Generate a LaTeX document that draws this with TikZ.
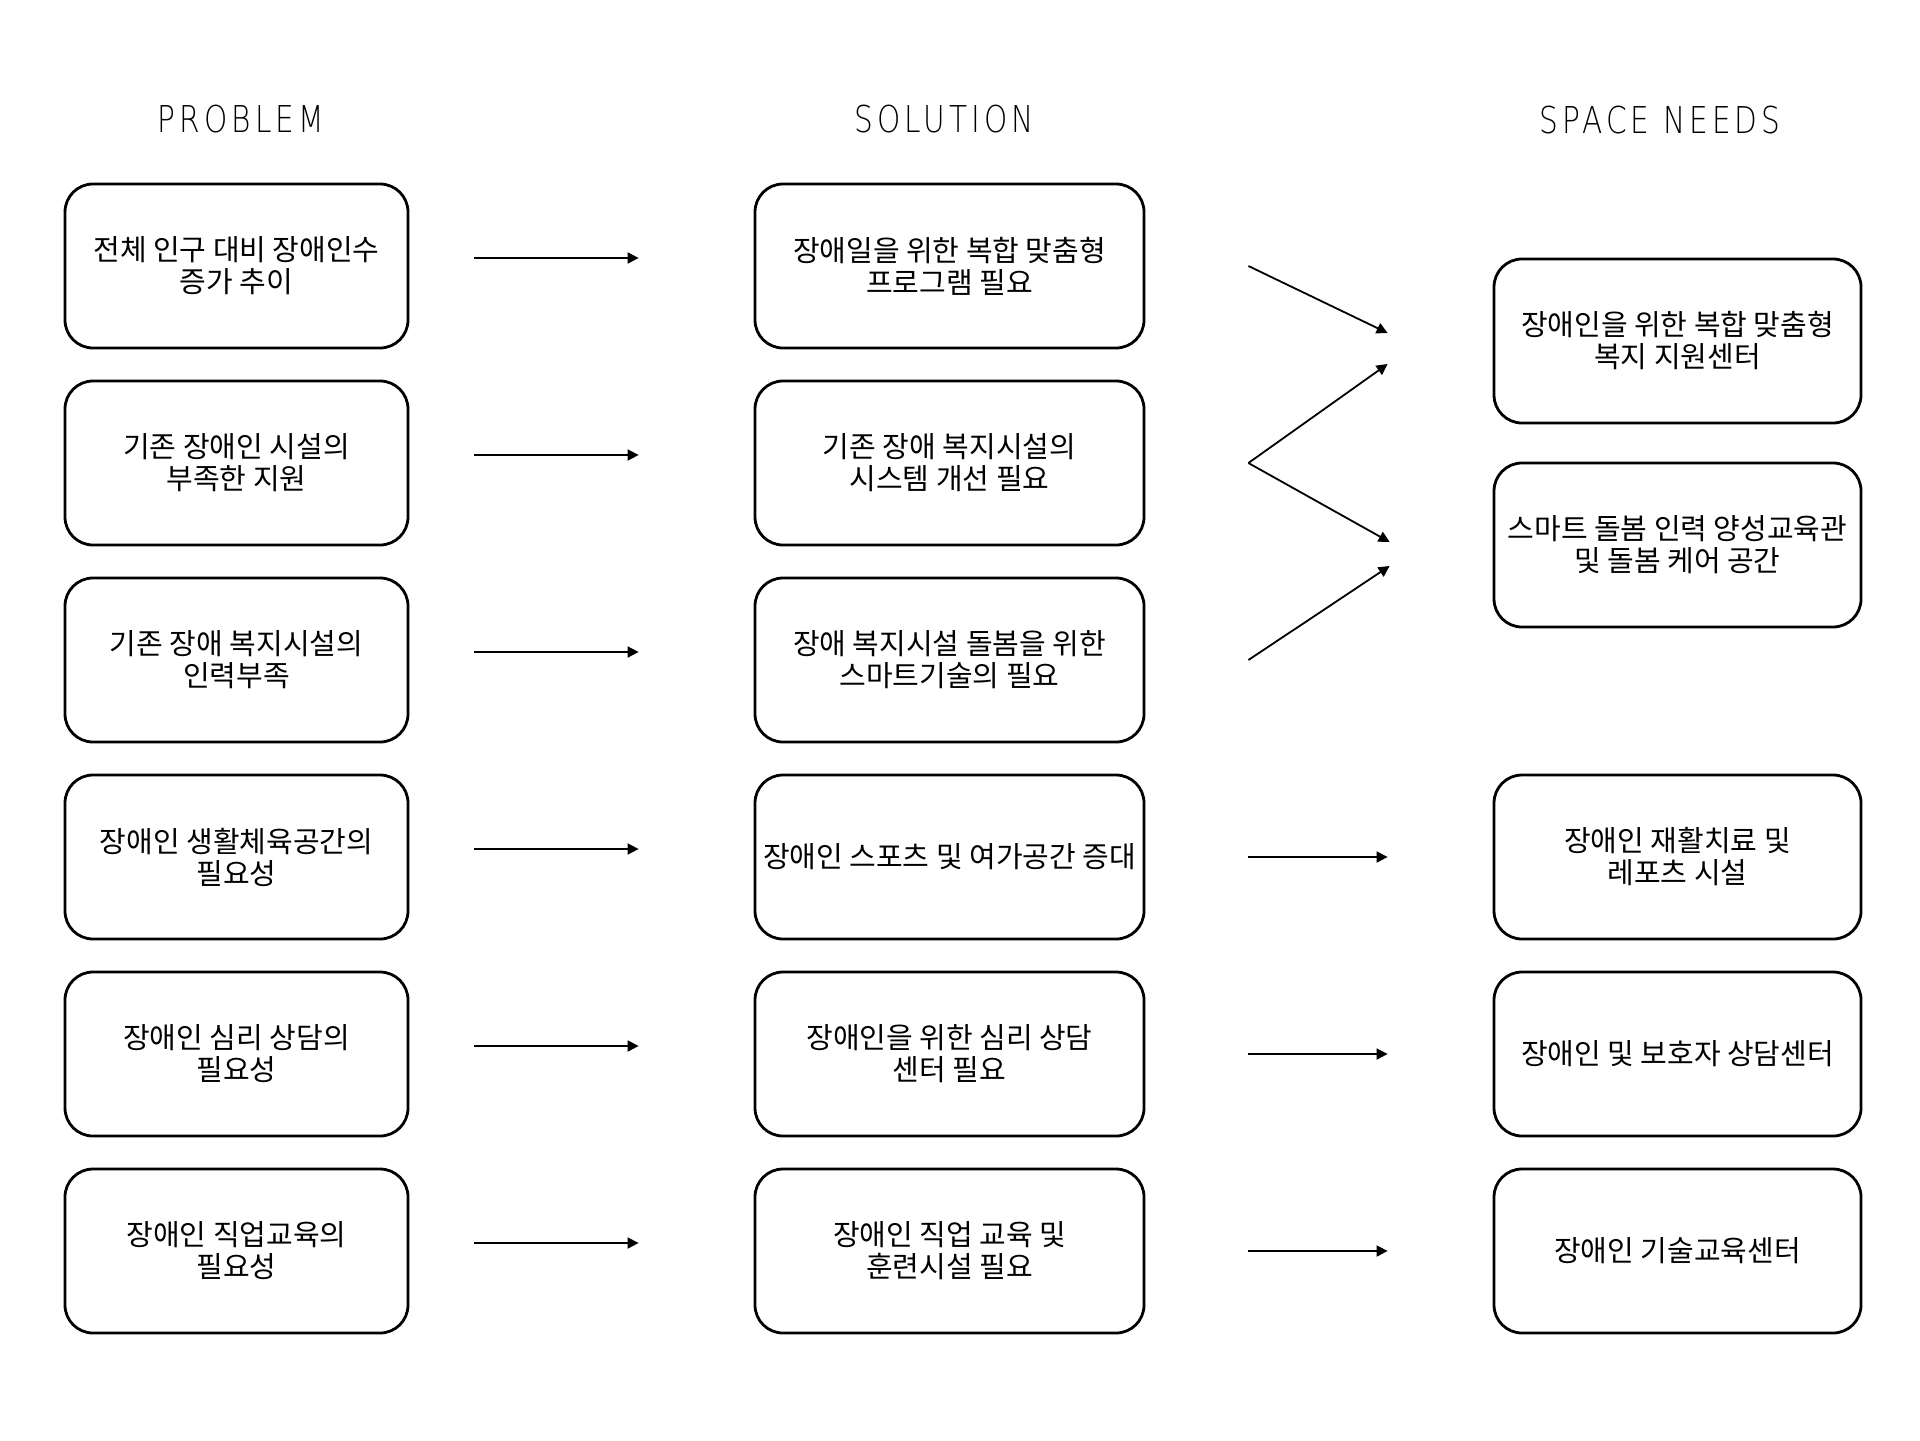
\documentclass[tikz,border=0pt]{standalone}
\usepackage{fontspec}
\setmainfont{Noto Sans CJK KR}
\newfontfamily\headfont[FakeStretch=0.8,LetterSpace=11]{DejaVu Sans ExtraLight}
\usetikzlibrary{arrows.meta,calc}

\begin{document}
\begin{tikzpicture}[x=0.5pt,y=-0.5pt,
  box/.style={draw,line width=1.4pt,rounded corners=14pt,align=center,inner sep=0pt,
    minimum height=82pt,font=\fontsize{14.5}{16}\selectfont},
  pbox/.style={box,minimum width=171.5pt},
  sbox/.style={box,minimum width=194.5pt},
  nbox/.style={box,minimum width=183.5pt},
  head/.style={font=\headfont\fontsize{18.5}{20}\selectfont},
  arr/.style={line width=0.9pt,-{Triangle[length=5.5pt,width=5.5pt]}}]
\useasboundingbox (0,0) rectangle (1920,1440);
% column titles
\node[head] (hp) at (241,119) {PROBLEM};
\node[head] (hs) at (944,119) {SOLUTION};
\node[head] (hn) at (1660,120) {SPACE NEEDS};
%% problem
\node[pbox] (p1) at (236.5,266) {전체 인구 대비 장애인수\\증가 추이};
\node[pbox] (p2) at (236.5,463) {기존 장애인 시설의\\부족한 지원};
\node[pbox] (p3) at (236.5,660) {기존 장애 복지시설의\\인력부족};
\node[pbox] (p4) at (236.5,857) {장애인 생활체육공간의\\필요성};
\node[pbox] (p5) at (236.5,1054) {장애인 심리 상담의\\필요성};
\node[pbox] (p6) at (236.5,1251) {장애인 직업교육의\\필요성};
%% solution
\node[sbox] (s1) at (949.5,266) {장애일을 위한 복합 맞춤형\\프로그램 필요};
\node[sbox] (s2) at (949.5,463) {기존 장애 복지시설의\\시스템 개선 필요};
\node[sbox] (s3) at (949.5,660) {장애 복지시설 돌봄을 위한\\스마트기술의 필요};
\node[sbox] (s4) at (949.5,857) {장애인 스포츠 및 여가공간 증대};
\node[sbox] (s5) at (949.5,1054) {장애인을 위한 심리 상담\\센터 필요};
\node[sbox] (s6) at (949.5,1251) {장애인 직업 교육 및\\훈련시설 필요};
%% space needs
\node[nbox] (n1) at (1677.5,341) {장애인을 위한 복합 맞춤형\\복지 지원센터};
\node[nbox] (n2) at (1677.5,545) {스마트 돌봄 인력 양성교육관\\및 돌봄 케어 공간};
\node[nbox] (n4) at (1677.5,857) {장애인 재활치료 및\\레포츠 시설};
\node[nbox] (n5) at (1677.5,1054) {장애인 및 보호자 상담센터};
\node[nbox] (n6) at (1677.5,1251) {장애인 기술교육센터};
%%
\foreach \i in {1,...,6}
  \draw[arr,shorten <=32.5pt,shorten >=57.5pt] ($(p\i.east)+(0,-8)$) -- ($(s\i.west)+(0,-8)$);
\foreach \i in {4,5,6}
  \draw[arr,shorten <=51.5pt,shorten >=52.5pt] (s\i.east) -- (n\i.west);
%% merging arrows
\coordinate (t1) at ($(s1.east)+(103,0)$);
\coordinate (t2) at ($(s2.east)+(103,0)$);
\coordinate (t3) at ($(s3.east)+(103,0)$);
\draw[arr] (t1) -- ($(n1.west)+(-105,-8)$);
\draw[arr] (t2) -- ($(n1.west)+(-105,23)$);
\draw[arr] (t2) -- ($(n2.west)+(-103,-3)$);
\draw[arr] (t3) -- ($(n2.west)+(-103,21)$);
\end{tikzpicture}
\end{document}
